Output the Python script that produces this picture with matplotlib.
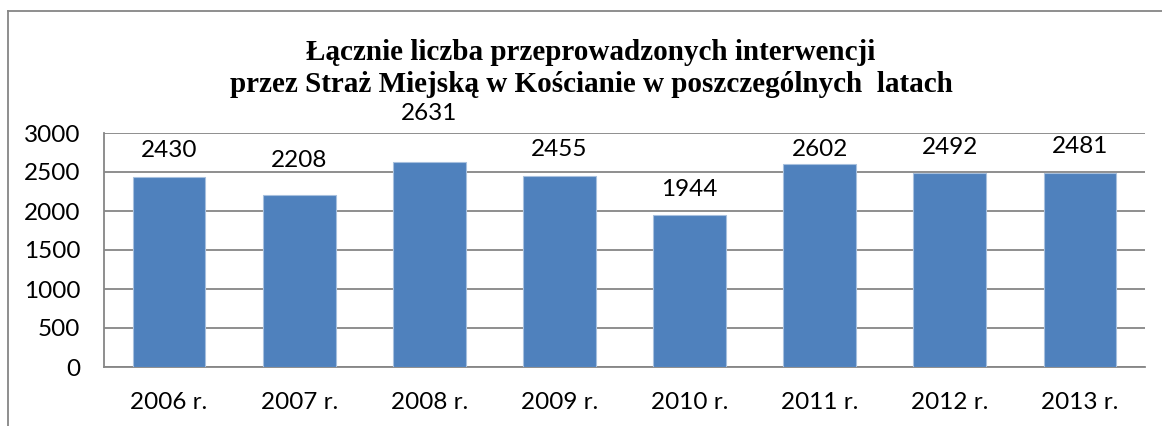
import matplotlib
matplotlib.use("Agg")
import matplotlib.pyplot as plt
from matplotlib.lines import Line2D

categories = ["2006 r.", "2007 r.", "2008 r.", "2009 r.", "2010 r.", "2011 r.", "2012 r.", "2013 r."]
values = [2430, 2208, 2631, 2455, 1944, 2602, 2492, 2481]
yticks = [0, 500, 1000, 1500, 2000, 2500, 3000]
title_lines = ["Łącznie liczba przeprowadzonych interwencji",
               "przez Straż Miejską w Kościanie w poszczególnych  latach"]

# label offsets (points above bar top), mimicking Excel placement
label_offsets = [14.4, 20.2, 30.2, 14.4, 13.7, 5.8, 13.7, 14.4]

W, H, DPI = 1162, 426, 100
fig = plt.figure(figsize=(W / DPI, H / DPI), dpi=DPI)
fig.patch.set_facecolor("white")

ax = fig.add_axes([104 / W, 1 - 367 / H, (1145 - 104) / W, (367 - 133) / H])

x = list(range(len(categories)))
ax.bar(x, values, width=0.56, color="#4F81BD", edgecolor="#A7C0DE",
       linewidth=0.8, zorder=3)
ax.set_xlim(-0.5, len(categories) - 0.5)
ax.set_ylim(0, 3000)
ax.set_yticks(yticks)
ax.set_yticklabels([str(t) for t in yticks])
ax.set_xticks(x)
ax.set_xticklabels(categories)

font = "Lato"
fs = 17.5
for lab in ax.get_xticklabels() + ax.get_yticklabels():
    lab.set_fontfamily(font)
    lab.set_fontsize(fs)
    lab.set_color("black")
ax.tick_params(axis="both", length=0)
ax.tick_params(axis="y", pad=17)
ax.tick_params(axis="x", pad=18)

ax.grid(axis="y", color="#868686", linewidth=1.3, zorder=0)
for side in ["top", "right"]:
    ax.spines[side].set_visible(False)
for side in ["left", "bottom"]:
    ax.spines[side].set_color("#868686")
    ax.spines[side].set_linewidth(1.3)

for xi, v, off in zip(x, values, label_offsets):
    ax.annotate(str(v), xy=(xi, v), xytext=(0, off), textcoords="offset points",
                ha="center", va="baseline", fontsize=fs, fontfamily=font,
                color="black", annotation_clip=False)

fig.text(591 / W, 1 - 60 / H, title_lines[0], ha="center", va="baseline",
         fontsize=21, fontweight="bold", fontfamily="Liberation Serif")
fig.text(591 / W, 1 - 92 / H, title_lines[1], ha="center", va="baseline",
         fontsize=21, fontweight="bold", fontfamily="Liberation Serif")

# chart border (top and left edges visible in the crop)
fig.add_artist(Line2D([8 / W, 1.0], [1 - 11 / H, 1 - 11 / H], color="#868686",
                      linewidth=1.3, transform=fig.transFigure))
fig.add_artist(Line2D([8 / W, 8 / W], [1 - 11 / H, 0.0], color="#868686",
                      linewidth=1.3, transform=fig.transFigure))

fig.savefig("out.png", dpi=DPI, facecolor="white")
